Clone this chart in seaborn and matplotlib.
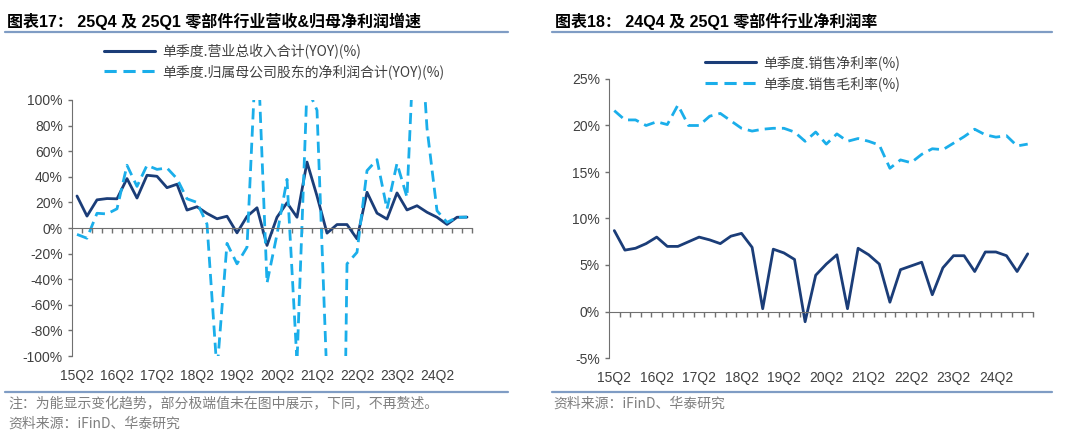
import numpy as np
import pandas as pd
import seaborn as sns
import matplotlib.pyplot as plt
from matplotlib.lines import Line2D
from matplotlib.ticker import FuncFormatter

# quarters 15Q2 .. 25Q1
quarters = [f'{y}Q{q}' for y in range(15, 26) for q in range(1, 5)][1:41]

# left chart: single-quarter YOY growth (%)
rev_yoy = [25, 9.3, 22, 23, 22.8, 38.6, 23.4, 41.2, 40.4, 31.5,
           34.2, 14, 16.6, 11.4, 7.2, 9.2, -3.8, 9, 15.8, -13.6,
           8.4, 19.7, 8.4, 51.5, 25, -4, 2.7, 2.7, -8.5, 27.9,
           11.6, 7, 27.4, 14.1, 17.4, 12.3, 8.4, 2.8, 8.4, 8.5]
np_yoy = [-5, -8, 11.5, 11, 15, 49, 32.5, 49, 45.8, 46.9,
          38.5, 22.8, 20, 3, -112, -12, -28, -15, 155, -43,
          -5, 38, -105, 110, 92, -120, -600, -28, -19, 44.8,
          53.4, 14.8, 50.5, 24, 200, 78, 13.5, 4.4, 8.3, 8.5]

# right chart: single-quarter margins (%)
net_margin = [8.7, 6.6, 6.8, 7.3, 8.0, 7.0, 7.0, 7.5, 8.0, 7.7,
              7.3, 8.1, 8.4, 6.9, 0.3, 6.7, 6.3, 5.6, -1.1, 3.9,
              5.1, 6.1, 0.3, 6.8, 6.1, 5.1, 1.0, 4.5, 4.9, 5.3,
              1.8, 4.7, 6.0, 6.0, 4.3, 6.4, 6.4, 6.0, 4.3, 6.2]
gross_margin = [21.6, 20.6, 20.6, 20.0, 20.4, 20.1, 22.2, 20.0, 20.0, 21.0,
                21.3, 20.5, 19.7, 19.4, 19.6, 19.7, 19.7, 19.3, 18.3, 19.3,
                18.0, 19.1, 18.3, 18.6, 18.3, 17.9, 15.4, 16.3, 16.0, 16.9,
                17.5, 17.4, 18.1, 18.8, 19.6, 19.0, 18.75, 18.9, 17.8, 18.0]

left_names = ['单季度.营业总收入合计(YOY)(%)', '单季度.归属母公司股东的净利润合计(YOY)(%)']
right_names = ['单季度.销售净利率(%)', '单季度.销售毛利率(%)']

NAVY = '#1B3D78'
SKY = '#1AAEEA'
AXC = '#707070'
TXT = '#404040'
RULE = '#7F9CC4'

sns.set_style('white')
plt.rcParams['font.family'] = ['Liberation Sans', 'Noto Sans CJK SC']
cjk = ['Noto Sans CJK SC', 'DejaVu Sans']

idx = np.arange(len(quarters))
df_left = pd.DataFrame({'i': np.tile(idx, 2),
                        'v': rev_yoy + np_yoy,
                        's': [left_names[0]] * 40 + [left_names[1]] * 40})
df_right = pd.DataFrame({'i': np.tile(idx, 2),
                         'v': net_margin + gross_margin,
                         's': [right_names[0]] * 40 + [right_names[1]] * 40})

fig = plt.figure(figsize=(10.8, 4.44), dpi=100)
axL = fig.add_axes([72 / 1080, 88 / 444, 400 / 1080, 256 / 444])
axR = fig.add_axes([609 / 1080, 86 / 444, 424 / 1080, 279 / 444])


def style_axis(ax, df, names, ylim, yticks):
    sns.lineplot(data=df, x='i', y='v',
                 hue='s', style='s', hue_order=names, style_order=names,
                 palette=[NAVY, SKY], dashes={names[0]: '', names[1]: (4, 2.2)},
                 linewidth=2.0, legend=False, ax=ax)
    ax.set_xlim(-0.5, 39.5)
    ax.set_ylim(*ylim)
    ax.set_yticks(yticks)
    ax.yaxis.set_major_formatter(FuncFormatter(lambda v, p: f'{v:.0f}%'))
    ax.set_xlabel('')
    ax.set_ylabel('')
    for s in ['top', 'right']:
        ax.spines[s].set_visible(False)
    ax.spines['left'].set_color(AXC)
    ax.spines['bottom'].set_color(AXC)
    ax.spines['bottom'].set_position(('data', 0))
    ax.set_xticks(np.arange(0.5, 40, 1))
    ax.set_xticklabels([])
    ax.tick_params(axis='x', bottom=True, direction='out', length=3.5, color=AXC, width=1)
    ax.tick_params(axis='y', left=True, direction='out', length=3, color=AXC, width=1,
                   labelsize=10, labelcolor=TXT, pad=3.5)
    sec = ax.secondary_xaxis('bottom')
    sec.set_xticks(idx[::4])
    sec.set_xticklabels(quarters[::4])
    sec.tick_params(bottom=False, length=0, labelsize=10, labelcolor=TXT, pad=9)
    sec.spines['bottom'].set_visible(False)
    handles = [Line2D([], [], color=NAVY, lw=2.2),
               Line2D([], [], color=SKY, lw=2.2, dashes=(4, 2.2))]
    return handles


hL = style_axis(axL, df_left, left_names, (-100, 100), np.arange(-100, 101, 20))
hR = style_axis(axR, df_right, right_names, (-5, 25), np.arange(-5, 26, 5))

axL.legend(hL, left_names, loc='upper left', bbox_to_anchor=(104 / 1080, 1 - 44 / 444),
           bbox_transform=fig.transFigure, frameon=False, borderpad=0, borderaxespad=0,
           handlelength=3.7, handletextpad=0.5, labelspacing=0.35,
           prop={'family': cjk, 'size': 10}, labelcolor=TXT)
axR.legend(hR, right_names, loc='upper left', bbox_to_anchor=(705 / 1080, 1 - 55 / 444),
           bbox_transform=fig.transFigure, frameon=False, borderpad=0, borderaxespad=0,
           handlelength=3.7, handletextpad=0.5, labelspacing=0.45,
           prop={'family': cjk, 'size': 10}, labelcolor=TXT)

# titles, rules and notes
fig.text(7 / 1080, 1 - 21 / 444, '图表17： 25Q4 及 25Q1 零部件行业营收&归母净利润增速',
         fontsize=11.5, fontweight='bold', color='black', va='center')
fig.text(555 / 1080, 1 - 21 / 444, '图表18： 24Q4 及 25Q1 零部件行业净利润率',
         fontsize=11.5, fontweight='bold', color='black', va='center')
for x0, x1 in [(5, 508), (552, 1052)]:
    for y in (32, 392):
        fig.add_artist(Line2D([x0 / 1080, x1 / 1080], [1 - y / 444, 1 - y / 444],
                              color=RULE, lw=1.6, transform=fig.transFigure))
fig.text(8 / 1080, 1 - 404 / 444, '注：为能显示变化趋势，部分极端值未在图中展示，下同，不再赘述。',
         fontsize=10, color='#7F7F7F', va='center', family=cjk)
fig.text(8 / 1080, 1 - 424 / 444, '资料来源：iFinD、华泰研究',
         fontsize=10, color='#7F7F7F', va='center', family=cjk)
fig.text(553 / 1080, 1 - 404 / 444, '资料来源：iFinD、华泰研究',
         fontsize=10, color='#7F7F7F', va='center', family=cjk)

fig.savefig('out.png', dpi=100)
